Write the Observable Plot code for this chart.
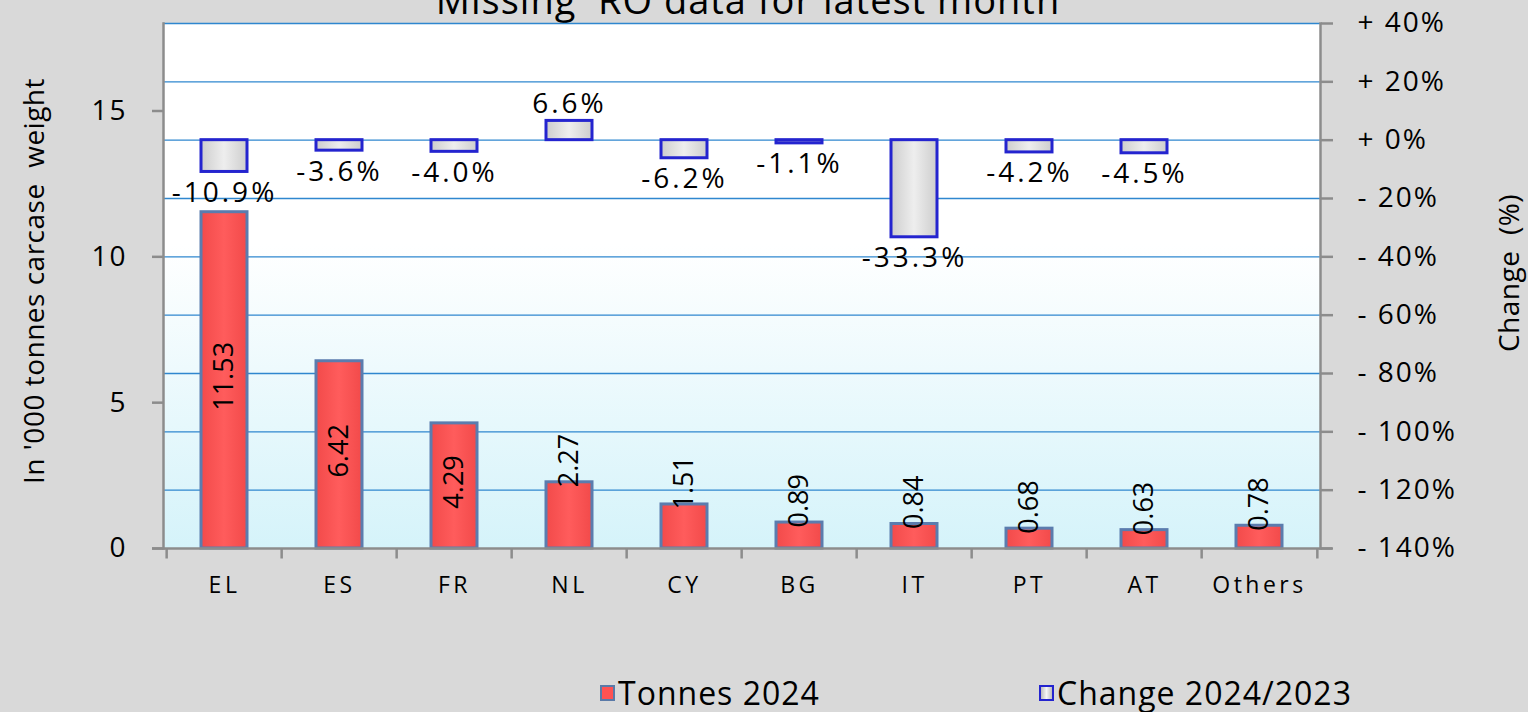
<!DOCTYPE html>
<html>
<head>
<meta charset="utf-8">
<script src="https://cdn.jsdelivr.net/npm/d3@7"></script>
<script src="https://cdn.jsdelivr.net/npm/@observablehq/plot@0.6"></script>
<style>
  html, body { margin: 0; padding: 0; background: #d9d9d9; width: 1528px; height: 712px; overflow: hidden; font-family: "Open Sans", sans-serif; }
  #wrap { position: relative; width: 1528px; height: 712px; }
  #title { position: absolute; left: 0; width: 1496px; top: -20px; text-align: center; font-size: 38px; line-height: 38px; letter-spacing: 1px; white-space: pre; color: #000; }
  #chart { position: absolute; left: 0; top: 0; }
  .leg { position: absolute; top: 676px; font-size: 32px; line-height: 34px; letter-spacing: 1px; color: #000; white-space: nowrap; display: flex; align-items: center; }
  .sw { display: inline-block; width: 11px; height: 12px; margin-right: 3px; box-sizing: content-box; }
  svg g[aria-label="x-axis tick label"] { letter-spacing: 3.5px; }
  svg g[aria-label="y-axis tick label"] { letter-spacing: 2px; }
  svg g.pct text { letter-spacing: 3px; }
  svg g.ttl text { letter-spacing: 0.5px; }
</style>
</head>
<body>
<div id="wrap">
  <div id="title">Missing  RO data for latest month</div>
  <div id="chart"></div>
  <div class="leg" style="left:600px"><span class="sw" style="background:#ff5252;border:2px solid #5a7aa8"></span>Tonnes 2024</div>
  <div class="leg" style="left:1039px"><span class="sw" style="background:linear-gradient(90deg,#bdbdbd,#f6f6f6,#bdbdbd);border:2px solid #2424cf"></span>Change 2024/2023</div>
</div>
<script>
const categories = ["EL", "ES", "FR", "NL", "CY", "BG", "IT", "PT", "AT", "Others"];
const tonnes2024 = [11.53, 6.42, 4.29, 2.27, 1.51, 0.89, 0.84, 0.68, 0.63, 0.78];
const change2024 = [-10.9, -3.6, -4.0, 6.6, -6.2, -1.1, -33.3, -4.2, -4.5, null];
const leftTicks = [0, 5, 10, 15];
const rightTicks = [-140, -120, -100, -80, -60, -40, -20, 0, 20, 40];
const leftTitle = "In '000 tonnes carcase  weight";
const rightTitle = "Change  (%)";

const W = 1528, H = 640, mL = 163, mR = 208, mT = 23, mB = 92;
const step = (W - mL - mR) / categories.length;
// map change (%) onto the left (tonnes) scale: -140% -> 0, +40% -> 18
const toLeft = p => (p + 140) / 10;
const fmtPct = p => (p >= 0 ? "+ " : "- ") + Math.abs(p) + "%";

const rows = categories.map((c, i) => ({cat: c, t: tonnes2024[i], ch: change2024[i]}));
const chRows = rows.filter(d => d.ch != null);
const axisColor = "#8c8c8c";

const chart = Plot.plot({
  width: W, height: H,
  marginLeft: mL, marginRight: mR, marginTop: mT, marginBottom: mB,
  style: {fontFamily: "Open Sans", background: "transparent", color: "#000", overflow: "visible"},
  x: {domain: categories, paddingInner: 0.6, paddingOuter: 0.3},
  y: {domain: [0, 18]},
  marks: [
    Plot.frame({fill: "url(#plotbg)", stroke: "none"}),
    Plot.gridY(rightTicks.slice(1).map(toLeft), {stroke: "#2f87cf", strokeOpacity: 1, strokeWidth: 1.3}),
    Plot.barY(rows, {x: "cat", y: "t", fill: "url(#redgrad)", stroke: "#5b7cae", strokeWidth: 3}),
    Plot.barY(chRows, {x: "cat", y1: 14, y2: d => toLeft(d.ch), fill: "url(#graygrad)", stroke: "#2424cf", strokeWidth: 3}),
    // axis lines
    Plot.frame({anchor: "left", stroke: axisColor, strokeWidth: 2.5}),
    Plot.frame({anchor: "right", stroke: axisColor, strokeWidth: 2.5}),
    Plot.ruleY([0], {stroke: axisColor, strokeWidth: 2.5, insetLeft: -11, insetRight: -12}),
    Plot.ruleX(categories, {x: d => d, y1: 0, y2: -0.36, dx: -step / 2, stroke: axisColor, strokeWidth: 2.5}),
    Plot.ruleX(categories.slice(-1), {x: d => d, y1: 0, y2: -0.36, dx: step / 2, stroke: axisColor, strokeWidth: 2.5}),
    Plot.axisY(leftTicks, {anchor: "left", tickSize: 11, tickPadding: 25, fontSize: 28, stroke: axisColor, strokeWidth: 2.5, label: null}),
    Plot.axisY(rightTicks.map(toLeft), {anchor: "right", tickSize: 12, tickPadding: 25, fontSize: 28, stroke: axisColor, strokeWidth: 2.5, label: null,
      tickFormat: t => fmtPct(Math.round(t * 10 - 140))}),
    Plot.axisX({tickSize: 0, tickPadding: 28, fontSize: 23, label: null}),
    // value labels: tonnes
    Plot.text(rows.filter(d => d.t >= 4), {x: "cat", y: d => d.t / 2, text: d => d.t.toFixed(2), rotate: -90, fontSize: 27, textAnchor: "middle", dy: -4, fill: "#000"}),
    Plot.text(rows.filter(d => d.t < 4), {x: "cat", y: "t", text: d => d.t.toFixed(2), rotate: -90, fontSize: 27, textAnchor: "start", dy: 5, fill: "#000"}),
    // value labels: change
    Plot.text(chRows.filter(d => d.ch < 0), {x: "cat", y: d => toLeft(d.ch), text: d => d.ch.toFixed(1) + "%", lineAnchor: "top", dy: 10, fontSize: 28, fill: "#000", className: "pct"}),
    Plot.text(chRows.filter(d => d.ch >= 0), {x: "cat", y: d => toLeft(d.ch), text: d => d.ch.toFixed(1) + "%", lineAnchor: "bottom", dy: -8, fontSize: 28, fill: "#000", className: "pct"}),
    // axis titles
    Plot.text([leftTitle], {frameAnchor: "left", textAnchor: "middle", dx: -128, dy: -5, rotate: -90, fontSize: 28, fill: "#000", className: "ttl"}),
    Plot.text([rightTitle], {frameAnchor: "right", textAnchor: "middle", dx: 190, dy: -13, rotate: -90, fontSize: 28, fill: "#000", className: "ttl"})
  ]
});

// gradients
const defs = d3.select(chart).insert("defs", ":first-child");
const bg = defs.append("linearGradient").attr("id", "plotbg").attr("x1", 0).attr("y1", 0).attr("x2", 0).attr("y2", 1);
bg.append("stop").attr("offset", 0).attr("stop-color", "#ffffff");
bg.append("stop").attr("offset", 0.42).attr("stop-color", "#ffffff");
bg.append("stop").attr("offset", 1).attr("stop-color", "#d5f3fa");
const rg = defs.append("linearGradient").attr("id", "redgrad").attr("x1", 0).attr("y1", 0).attr("x2", 1).attr("y2", 0);
rg.append("stop").attr("offset", 0).attr("stop-color", "#f24a4a");
rg.append("stop").attr("offset", 0.5).attr("stop-color", "#ff5c5c");
rg.append("stop").attr("offset", 1).attr("stop-color", "#f24a4a");
const gg = defs.append("linearGradient").attr("id", "graygrad").attr("x1", 0).attr("y1", 0).attr("x2", 1).attr("y2", 0);
gg.append("stop").attr("offset", 0).attr("stop-color", "#cdcdcd");
gg.append("stop").attr("offset", 0.5).attr("stop-color", "#eeeeee");
gg.append("stop").attr("offset", 1).attr("stop-color", "#cdcdcd");

document.getElementById("chart").appendChild(chart);
</script>
</body>
</html>
